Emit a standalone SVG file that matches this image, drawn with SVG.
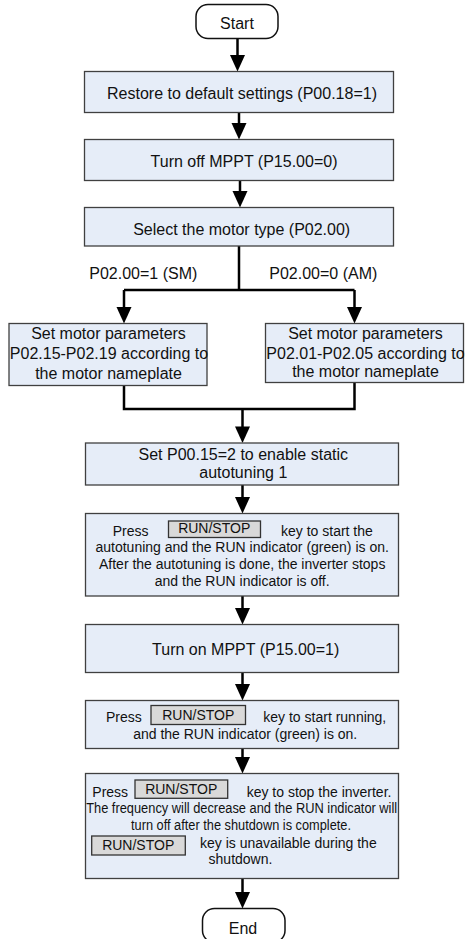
<svg xmlns="http://www.w3.org/2000/svg" xmlns:xlink="http://www.w3.org/1999/xlink" width="467" height="939" viewBox="0 0 467 939">
<style>
text{font-family:"Liberation Sans",Arial,sans-serif;fill:#111}
.t16{font-size:16px}
.t14{font-size:14px}
.c{text-anchor:middle}
.box{fill:#e6edf8;stroke:#404040;stroke-width:1.3}
.term{fill:#fff;stroke:#111;stroke-width:1.5}
.btn{fill:#d9d9d9;stroke:#333;stroke-width:1.3}
.ln{fill:none;stroke:#000;stroke-width:2.5}
</style>
<defs>
<path id="ah" d="M-7.5,-16.5 L7.5,-16.5 L0,0 Z" fill="#000"/>
</defs>
<g id="connectors">
<path class="ln" d="M237.5,38.5 V56"/><use xlink:href="#ah" x="237.5" y="71.5"/>
<path class="ln" d="M239,112.5 V124"/><use xlink:href="#ah" x="239" y="139.5"/>
<path class="ln" d="M240,180.5 V192"/><use xlink:href="#ah" x="240" y="207.5"/>
<path class="ln" d="M239,246 V290 M124,290 H354.5 M124,290 V308 M354.5,290 V308"/>
<use xlink:href="#ah" x="124" y="323.5"/><use xlink:href="#ah" x="354.5" y="323.5"/>
<path class="ln" d="M124,385.5 V409 H354.5 V382.5 M242.5,409 V428"/>
<use xlink:href="#ah" x="242.5" y="443"/>
<path class="ln" d="M242.5,485 V498"/><use xlink:href="#ah" x="242.5" y="513.5"/>
<path class="ln" d="M242.5,596 V609"/><use xlink:href="#ah" x="242.5" y="624.5"/>
<path class="ln" d="M242.5,672.5 V685"/><use xlink:href="#ah" x="242.5" y="700.5"/>
<path class="ln" d="M242.5,748.5 V758"/><use xlink:href="#ah" x="242.5" y="773.5"/>
<path class="ln" d="M242.5,878.5 V893"/><use xlink:href="#ah" x="242.5" y="908.5"/>
<text class="t16" x="89.3" y="278.5">P02.00=1 (SM)</text>
<text class="t16" x="269.3" y="278.5">P02.00=0 (AM)</text>
</g>
<g id="start">
<rect class="term" x="196" y="4.5" width="82" height="34" rx="12"/>
<text class="t16 c" x="237" y="29">Start</text>
</g>
<g id="restore">
<rect class="box" x="84.5" y="71.5" width="309" height="41"/>
<text class="t16 c" x="242" y="99">Restore to default settings (P00.18=1)</text>
</g>
<g id="mppt-off">
<rect class="box" x="84.5" y="139.5" width="309" height="41"/>
<text class="t16 c" x="244" y="166.5">Turn off MPPT (P15.00=0)</text>
</g>
<g id="motor-type">
<rect class="box" x="84.5" y="207.5" width="309" height="38.5"/>
<text class="t16 c" x="241.7" y="235">Select the motor type (P02.00)</text>
</g>
<g id="sm-params">
<rect class="box" x="9" y="323.5" width="198" height="62"/>
<text class="t16 c" x="108.5" y="339">Set motor parameters</text>
<text class="t16 c" x="109" y="359">P02.15-P02.19 according to</text>
<text class="t16 c" x="108.5" y="378.5">the motor nameplate</text>
</g>
<g id="am-params">
<rect class="box" x="265.5" y="323.5" width="198" height="59"/>
<text class="t16 c" x="365.5" y="339">Set motor parameters</text>
<text class="t16 c" x="365.5" y="358.5">P02.01-P02.05 according to</text>
<text class="t16 c" x="365.5" y="377">the motor nameplate</text>
</g>
<g id="autotune-set">
<rect class="box" x="85.5" y="443" width="313" height="42"/>
<text class="t16 c" x="243.3" y="460">Set P00.15=2 to enable static</text>
<text class="t16 c" x="243.3" y="477.5">autotuning 1</text>
</g>
<g id="autotune-run">
<rect class="box" x="85.5" y="513.5" width="313" height="82.5"/>
<text class="t14" x="112.7" y="535.7">Press</text>
<rect class="btn" x="168.5" y="521" width="92" height="16.5"/>
<text class="t14 c" x="214.2" y="532.8">RUN/STOP</text>
<text class="t14" x="281" y="535.7">key to start the</text>
<text class="t14 c" x="242.2" y="552.3">autotuning and the RUN indicator (green) is on.</text>
<text class="t14 c" x="242.2" y="569.3">After the autotuning is done, the inverter stops</text>
<text class="t14 c" x="242.2" y="586">and the RUN indicator is off.</text>
</g>
<g id="mppt-on">
<rect class="box" x="85.5" y="624.5" width="313" height="48"/>
<text class="t16 c" x="245.7" y="655">Turn on MPPT (P15.00=1)</text>
</g>
<g id="run">
<rect class="box" x="85.5" y="700.5" width="313" height="48"/>
<text class="t14" x="106" y="721.7">Press</text>
<rect class="btn" x="151" y="705.5" width="94.5" height="19"/>
<text class="t14 c" x="198.3" y="719.5">RUN/STOP</text>
<text class="t14" x="263.3" y="721.7">key to start running,</text>
<text class="t14 c" x="245.2" y="739">and the RUN indicator (green) is on.</text>
</g>
<g id="stop">
<rect class="box" x="85.5" y="773.5" width="313" height="105"/>
<text class="t14" x="92.3" y="796.7">Press</text>
<rect class="btn" x="135" y="780" width="92.7" height="18.3"/>
<text class="t14 c" x="181.2" y="794">RUN/STOP</text>
<text class="t14" x="246.7" y="796.7">key to stop the inverter.</text>
<text class="t14 c" x="241.7" y="813.3" textLength="311" lengthAdjust="spacingAndGlyphs">The frequency will decrease and the RUN indicator will</text>
<text class="t14 c" x="241" y="830" textLength="220" lengthAdjust="spacingAndGlyphs">turn off after the shutdown is complete.</text>
<rect class="btn" x="91.7" y="836" width="93.6" height="19"/>
<text class="t14 c" x="138.2" y="850">RUN/STOP</text>
<text class="t14" x="200" y="847.7">key is unavailable during the</text>
<text class="t14 c" x="240.5" y="864.3">shutdown.</text>
</g>
<g id="end">
<rect class="term" x="202.5" y="908.5" width="82.5" height="34" rx="12"/>
<text class="t16 c" x="243" y="934">End</text>
</g>
</svg>
